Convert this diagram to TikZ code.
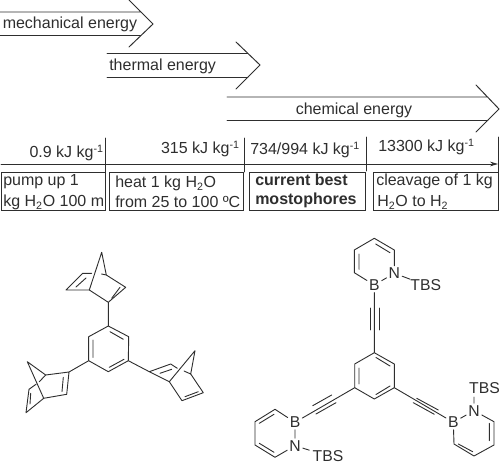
\documentclass[tikz,border=0pt]{standalone}
\usepackage{fontspec}
\setmainfont{Liberation Sans}
\usetikzlibrary{arrows.meta}
\definecolor{ink}{HTML}{2E2E2E}
\tikzset{
  ln/.style={draw=ink,line width=0.72pt,line cap=round,line join=miter},
  bond/.style={draw=ink,line width=0.68pt,line cap=round,line join=round},
  txt/.style={anchor=base west,inner sep=0pt,text=ink,font=\fontsize{12}{14}\selectfont},
  txtr/.style={anchor=base east,inner sep=0pt,text=ink,font=\fontsize{12}{14}\selectfont},
  bx/.style={draw=ink,line width=0.72pt,fill=none},
  atom/.style={inner sep=1.4pt,text=ink,font=\fontsize{11.8}{14}\selectfont},
  group/.style={inner xsep=2.5pt,inner ysep=0pt,text=ink,font=\fontsize{11.8}{14}\selectfont}
}
\begin{document}
\begin{tikzpicture}[x=0.75pt,y=-0.75pt]
\useasboundingbox (0,0) rectangle (500,463);
% energy arrows
\coordinate (a1s) at (0,12); \coordinate (a1t) at (141,12);
\coordinate (a1u) at (0,35.5); \coordinate (a1v) at (141,35.5);
\coordinate (a1a) at (129,0); \coordinate (a1p) at (153,24); \coordinate (a1b) at (129,47);
\draw[ln] (a1s)--(a1t) (a1u)--(a1v) (a1a)--(a1p)--(a1b);
\coordinate (a2s) at (107,53.5); \coordinate (a2t) at (248,53.5);
\coordinate (a2u) at (107,77.5); \coordinate (a2v) at (248,77.5);
\coordinate (a2a) at (236,42); \coordinate (a2p) at (260,65); \coordinate (a2b) at (236,89);
\draw[ln] (a2s)--(a2t) (a2u)--(a2v) (a2a)--(a2p)--(a2b);
\coordinate (a3s) at (227,97); \coordinate (a3t) at (488,97);
\coordinate (a3u) at (227,120.5); \coordinate (a3v) at (488,120.5);
\coordinate (a3a) at (476,85); \coordinate (a3p) at (499,109); \coordinate (a3b) at (476,132);
\draw[ln] (a3s)--(a3t) (a3u)--(a3v) (a3a)--(a3p)--(a3b);
\node[txt] (tmech) at (2.5,29) {mechanical energy};
\node[txt] (ttherm) at (109,71) {thermal energy};
\node[txt] (tchem) at (295.5,114.5) {chemical energy};
% axis
\coordinate (axl) at (1,164); \coordinate (axr) at (498,164);
\draw[ln,-{Stealth[length=6pt,width=3.5pt]}] (axl)--(axr);
\foreach \n/\x/\t/\b in {k1/105/138/172,k2/244/138/172,k3/366/137/171,k4/498.5/137/172}{
  \coordinate (\n t) at (\x,\t); \coordinate (\n b) at (\x,\b);
  \draw[ln] (\n t)--(\n b);
}
\node[txtr] (v1) at (104,158) {0.9 kJ kg\textsuperscript{-1}};
\node[txtr] (v2) at (240,154) {315 kJ kg\textsuperscript{-1}};
\node[txt] (v3) at (250,155) {734/994 kJ kg\textsuperscript{-1}};
\node[txt] (v4) at (378,152) {13300 kJ kg\textsuperscript{-1}};
% boxes
\draw[bx] (1,172) rectangle (105,210);
\draw[bx] (109,172) rectangle (243,210);
\draw[bx] (249.5,172) rectangle (365,210);
\draw[bx] (373,172) rectangle (498.5,210);
\node[txt] (b1a) at (3,186) {pump up 1};
\node[txt] (b1b) at (3,207) {kg H\textsubscript{2}O 100 m};
\node[txt] (b2a) at (115,188) {heat 1 kg H\textsubscript{2}O};
\node[txt] (b2b) at (115,208) {from 25 to 100 ºC};
\node[txt,font=\fontsize{12}{14}\selectfont\bfseries] (b3a) at (255,186) {current best};
\node[txt,font=\fontsize{12}{14}\selectfont\bfseries] (b3b) at (255,205) {mostophores};
\node[txt] (b4a) at (376,186) {cleavage of 1 kg};
\node[txt] (b4b) at (377,207) {H\textsubscript{2}O to H\textsubscript{2}};
% left molecule: benzene
\coordinate (p1) at (108.3,326); \coordinate (p2) at (128.7,336.7);
\coordinate (p3) at (128.3,360.7); \coordinate (p4) at (108.3,371.7);
\coordinate (p5) at (88.7,360.7); \coordinate (p6) at (88.7,336.7);
\draw[bond] (p1)--(p2)--(p3)--(p4)--(p5)--(p6)--cycle;
\draw[bond] (110,331.7)--(123.3,339.3) (109.3,367.3)--(124,359.3) (93,340)--(93,357.3);
% top norbornadiene
\coordinate (ta) at (108.3,302.3); \coordinate (tb) at (125.7,287.3);
\coordinate (tc) at (106.3,275); \coordinate (td) at (101.7,252.3);
\coordinate (te) at (89.3,290); \coordinate (tf) at (66,290); \coordinate (tg) at (82.7,273.3);
\draw[bond] (p1)--(ta)--(tb)--(tc)--(td)--(te)--(ta) (te)--(tf)--(tg)--(91.7,273.3) (101.5,274)--(tc);
\draw[bond] (111.7,298.3)--(120,287.3) (76,287)--(86,278);
% left norbornadiene
\coordinate (la) at (69,372); \coordinate (lb) at (45.7,375);
\coordinate (lc) at (27.3,361.7); \coordinate (ld) at (43.7,398.3);
\coordinate (le) at (66.7,394.3); \coordinate (lf) at (26,412.7); \coordinate (lg) at (29,389.3);
\draw[bond] (p5)--(la)--(lb)--(lc)--(ld)--(le)--(la) (ld)--(lf)--(lg)--(36,384.3) (39.3,381.7)--(lb);
\draw[bond] (63.3,377.3)--(62,391.7) (30.7,393.3)--(30,404);
% right norbornadiene
\coordinate (ra) at (149.3,371.7); \coordinate (rb) at (170.7,364);
\coordinate (rc) at (169.3,381.7); \coordinate (rd) at (190.7,374);
\coordinate (re) at (195,350.7); \coordinate (rf) at (182,400.7); \coordinate (rg) at (203.3,392.7);
\draw[bond] (p3)--(ra)--(rb)--(177.3,368.3) (184,371)--(rd)--(re)--(rc)--(ra) (rc)--(rf)--(rg)--(rd);
\draw[bond] (160,373.3)--(171.7,369.3) (185,396.7)--(198.3,391.7);
% right molecule: benzene
\coordinate (q1) at (374.3,352.7); \coordinate (q2) at (394.3,364);
\coordinate (q3) at (394.3,387.7); \coordinate (q4) at (374.3,399);
\coordinate (q5) at (354.7,387.7); \coordinate (q6) at (354.7,364);
\draw[bond] (q1)--(q2)--(q3)--(q4)--(q5)--(q6)--cycle;
\draw[bond] (376,357.5)--(390,366) (376,394.5)--(390,386) (359,368)--(359,384);
% top ring
\node[atom] (B1) at (374.3,285) {B};
\node[atom] (N1) at (394.3,273.3) {N};
\node[group] (T1) at (425.7,285) {TBS};
\coordinate (u1) at (394.3,250); \coordinate (u2) at (374.3,238.3);
\coordinate (u3) at (354.3,250); \coordinate (u4) at (354.3,272.7);
\draw[bond] (N1)--(u1)--(u2)--(u3)--(u4)--(B1) (B1)--(N1) (N1)--(T1) (B1)--(q1);
\draw[bond] (375.7,244)--(390,252.7) (359,254)--(359,269.3);
\draw[bond] (370,308)--(370,330) (379.3,308)--(379.3,330);
% left ring
\node[atom] (B2) at (295,422.3) {B};
\node[atom] (N2) at (295,445.7) {N};
\node[group] (T2) at (328,456) {TBS};
\coordinate (v1) at (275,409.3); \coordinate (v2) at (255,421.7);
\coordinate (v3) at (255,445); \coordinate (v4) at (275,457.3);
\draw[bond] (B2)--(v1)--(v2)--(v3)--(v4)--(N2) (B2)--(N2) (N2)--(T2) (B2)--(q5);
\draw[bond] (274,414.3)--(259.3,423.3) (259.3,443.3)--(274,452.3);
\draw[bond] (312.7,405.7)--(331.7,395) (316,414)--(336,402.7);
% right ring
\node[atom] (B3) at (453.3,422.3) {B};
\node[atom] (N3) at (474,410.7) {N};
\node[group,inner xsep=0pt,inner ysep=2pt] (T3) at (484.5,388.3) {TBS};
\coordinate (w1) at (494,421.7); \coordinate (w2) at (494,445);
\coordinate (w3) at (474,456); \coordinate (w4) at (454,444);
\coordinate (w5) at (474,397);
\draw[bond] (N3)--(w1)--(w2)--(w3)--(w4)--(B3) (B3)--(N3) (N3)--(w5) (B3)--(q3);
\draw[bond] (489.3,423.3)--(489.3,440.7) (458.3,444)--(472.7,451.7);
\draw[bond] (413.3,402.7)--(434.3,414.3) (416.7,398.3)--(438.3,410);
\end{tikzpicture}
\end{document}
